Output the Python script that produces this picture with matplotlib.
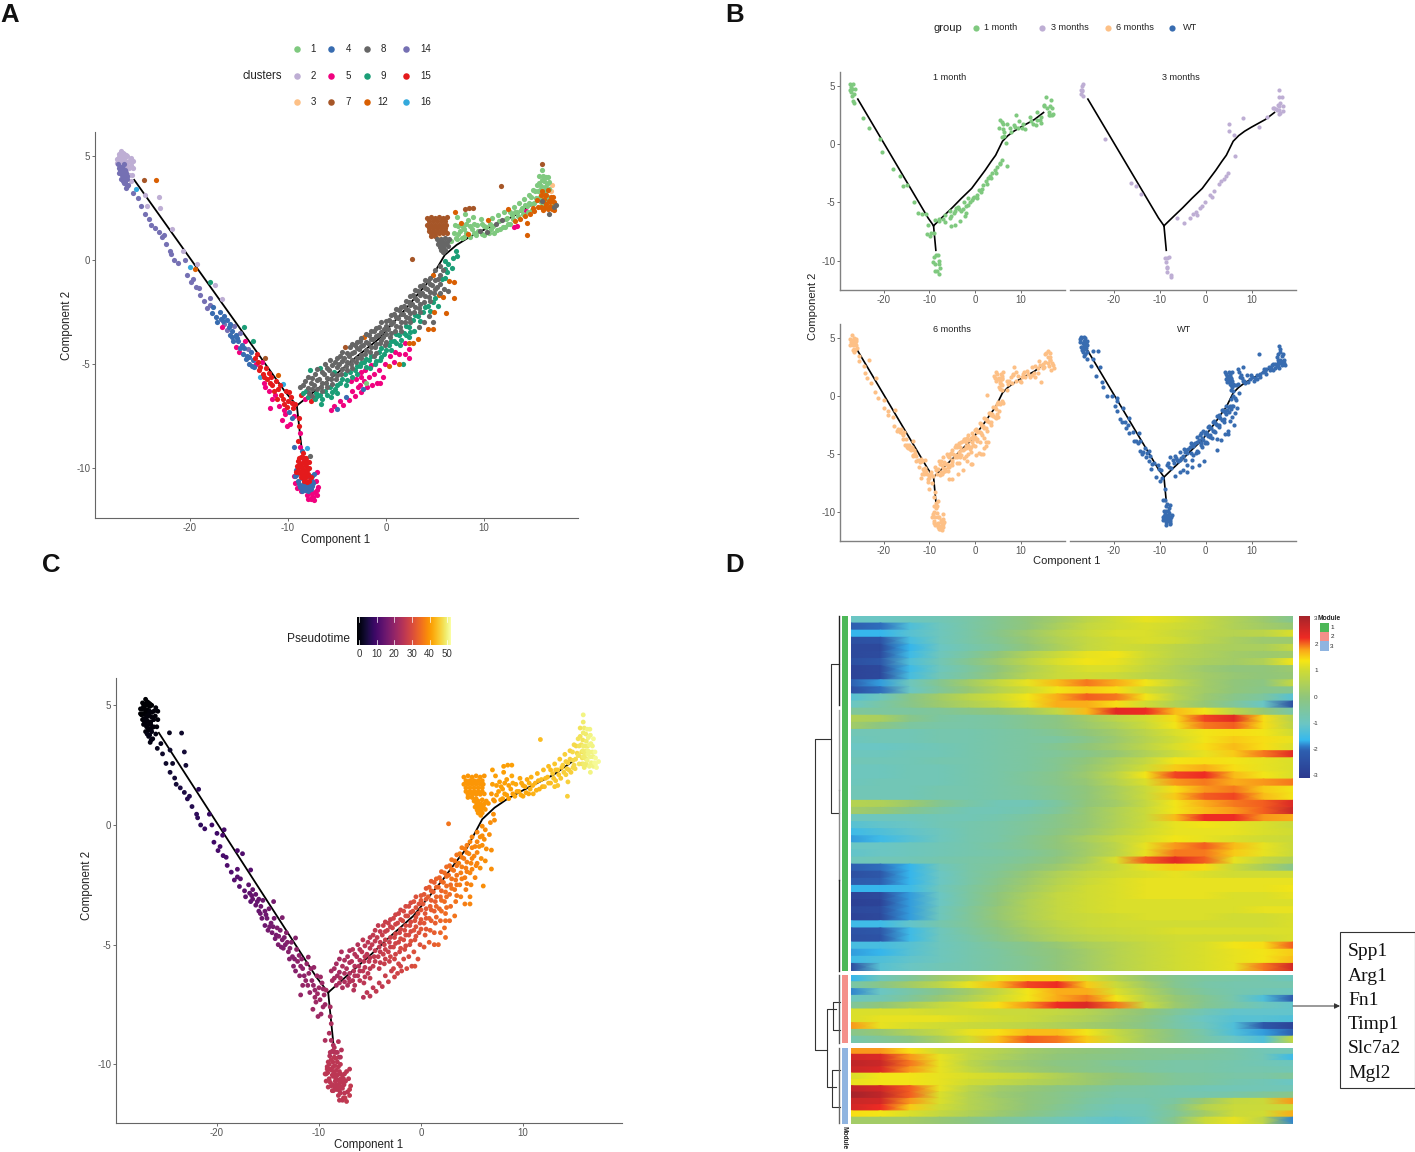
import matplotlib
matplotlib.use('Agg')
import matplotlib.pyplot as plt
import numpy as np
from matplotlib.colors import LinearSegmentedColormap

plt.rcParams['font.family'] = ['Liberation Sans', 'DejaVu Sans']
plt.rcParams['axes.unicode_minus'] = False

W, H = 1415, 1152

# cells: (component 1, component 2, cluster, group, pseudotime)
# group 0 is WT, the others are months
top_blob = [
    (-27.3,5.1,2,1,0),(-27.0,5.25,2,6,0),(-26.7,5.1,2,3,0),(-26.4,5.0,2,0,0),(-27.5,4.85,2,0,0),
    (-27.1,4.85,2,1,0),(-26.8,4.8,2,6,0),(-26.4,4.7,2,1,1),(-26.0,4.9,2,6,1),(-25.8,4.75,2,0,1),
    (-27.3,4.65,2,3,0),(-26.9,4.55,2,3,1),(-26.2,4.4,2,6,1),(-25.8,4.4,2,0,1),(-26.5,4.3,2,1,1),
    (-25.9,4.1,2,6,1),(-26.0,3.8,2,0,2),(-26.6,4.95,2,6,0),(-27.2,4.95,2,0,0),(-26.9,5.0,2,3,0),
    (-27.15,5.05,2,0,0),(-26.85,5.15,2,1,0),(-26.55,5.05,2,0,0),(-27.35,4.85,2,6,0),(-26.95,4.75,2,1,0),
    (-26.6,4.75,2,0,1),(-26.2,4.75,2,6,1),(-27.15,4.65,2,6,0),(-26.75,4.55,2,0,1),(-26.4,4.5,2,6,1),
    (-26.05,4.55,2,0,1),(-26.2,4.1,2,0,1),(-27.5,4.65,2,1,0),(-27.0,4.65,2,3,0),
    (-27.4,4.6,14,0,0),(-27.15,4.45,14,1,1),(-26.85,4.35,14,6,1),(-27.2,4.2,14,0,1),(-26.9,4.1,14,1,1),
    (-26.6,4.0,14,6,1),(-27.0,3.9,14,0,1),(-26.7,3.7,14,1,2),(-26.4,3.9,14,6,2),(-26.55,3.45,14,0,2),
    (-26.3,3.6,14,0,2),(-26.7,4.6,14,6,1),(-27.1,4.3,14,3,1),(-26.5,4.2,14,0,1),(-26.8,4.15,14,3,1),
    (-27.3,4.4,14,6,0),(-27.0,4.2,14,0,1),(-26.75,3.95,14,6,1),(-26.85,3.8,14,0,2),(-26.6,3.75,14,6,2),
    (-26.45,3.55,14,1,2),(-26.65,4.3,14,0,1),(-26.95,4.45,14,6,1),(-26.4,4.05,14,0,1),
]
left_arm = [
    (-25.85,3.2,14,0,3),(-25.5,3.4,16,6,3),(-25.34,2.97,14,6,4),(-25.0,2.57,14,0,4),(-24.6,2.2,14,1,5),
    (-24.15,1.96,14,6,5),(-24.6,3.13,2,0,4),(-23.2,3.05,2,6,5),(-24.35,2.57,2,6,4),(-23.05,2.49,2,0,5),
    (-24.66,3.85,7,0,3),(-23.47,3.84,12,0,4),(-23.2,1.36,14,1,6),(-22.9,1.09,14,6,7),(-22.45,0.77,14,0,7),
    (-22.0,0.45,14,3,8),(-21.6,0.0,14,0,8),(-21.2,-0.16,14,6,9),(-21.8,1.49,2,6,8),(-20.75,0.45,2,1,9),
    (-20.5,0.0,14,0,10),(-20.3,-0.72,14,1,10),(-19.9,-1.07,14,6,11),(-19.4,-1.28,14,0,11),(-19.0,-1.69,14,6,12),
    (-18.6,-1.97,14,0,12),(-18.0,-2.17,14,1,13),(-17.8,-2.57,4,6,13),(-19.3,-0.2,2,0,11),(-17.5,-1.2,2,6,12),
    (-16.7,-1.88,2,0,13),(-20.0,-0.35,16,6,10),(-19.45,-0.43,12,0,11),(-18.0,-1.07,9,0,12),(-14.45,-3.2,9,0,17),
    (-13.6,-3.87,9,6,18),(-12.3,-4.72,7,0,19),(-11.05,-5.52,12,6,21),
    (-24.0,1.7,14,0,5),(-23.6,1.55,14,6,6),(-22.7,1.2,14,0,7),(-21.9,0.3,14,6,8),(-19.7,-0.9,14,0,11),
    (-19.1,-1.35,14,6,11),(-18.3,-2.3,14,0,13),(-18.0,-1.85,14,6,13),(-17.7,-2.25,4,0,13),
    (-17.3,-2.75,4,0,14),(-17.2,-3.0,4,6,14),(-16.9,-2.5,4,0,14),(-16.8,-2.85,4,6,14),(-16.7,-3.2,5,0,14),
    (-16.5,-2.7,4,1,15),(-16.5,-3.1,14,6,15),(-16.2,-3.35,14,3,15),(-16.2,-2.9,4,6,15),(-15.9,-3.1,4,0,15),
    (-15.9,-3.6,4,1,15),(-15.7,-3.4,4,6,16),(-15.6,-3.9,4,0,16),(-15.5,-3.15,14,6,16),(-15.3,-3.6,4,3,16),
    (-15.3,-4.2,5,6,16),(-15.1,-3.9,4,0,16),(-15.0,-4.4,5,6,17),(-14.9,-3.5,14,1,17),(-14.7,-4.1,4,0,17),
    (-14.6,-4.5,4,6,17),(-14.4,-3.9,5,0,17),(-14.2,-4.6,4,6,17),(-14.1,-4.3,14,3,18),(-14.0,-5.0,4,0,18),
    (-13.8,-4.4,4,6,18),(-13.6,-4.8,4,0,18),(-13.5,-5.15,4,6,18),(-13.3,-5.0,5,1,18),(-13.2,-4.5,15,0,19),
    (-13.1,-4.9,15,6,19),(-13.0,-5.3,15,0,19),(-12.9,-5.6,16,6,19),(-12.7,-4.9,5,0,19),(-12.6,-5.5,15,6,19),
    (-12.5,-5.9,5,1,19),(-12.2,-5.2,15,0,20),(-12.1,-5.7,15,6,20),(-11.9,-6.3,5,0,20),(-11.7,-5.6,15,6,20),
    (-11.6,-6.0,15,1,20),(-11.3,-6.5,5,6,21),(-11.2,-5.8,15,0,21),(-11.0,-6.2,15,6,21),(-10.9,-7.0,5,0,21),
    (-10.7,-6.5,15,6,21),(-10.5,-5.95,16,0,21),(-10.4,-6.9,15,1,21),(-10.3,-7.4,5,6,22),(-10.2,-6.3,15,0,22),
    (-10.0,-6.8,15,6,22),(-9.9,-7.3,4,0,22),(-9.8,-7.9,5,1,22),(-9.7,-6.6,15,6,22),(-9.5,-7.1,15,0,22),
    (-9.4,-7.5,5,6,22),(-9.3,-6.9,15,6,23),(-10.1,-8.0,5,6,22),(-10.6,-7.7,5,1,22),(-11.8,-7.1,5,6,21),
    (-16.6,-2.95,4,6,15),(-16.05,-3.2,4,6,15),(-15.75,-3.7,4,6,16),(-15.2,-3.75,4,6,16),(-14.85,-4.25,4,6,17),
    (-14.5,-4.25,4,6,17),(-14.3,-4.75,4,0,17),(-13.95,-4.65,4,6,18),(-13.7,-5.1,4,6,18),(-13.4,-4.7,15,6,18),
    (-12.85,-5.15,15,6,19),(-12.4,-5.6,15,0,19),(-12.3,-6.1,5,6,19),(-11.95,-5.45,15,6,20),(-11.8,-5.9,15,0,20),
    (-11.45,-6.3,15,6,20),(-11.1,-6.7,15,6,21),(-10.8,-6.0,15,1,21),(-10.55,-6.7,15,6,21),(-10.15,-7.05,15,6,22),
    (-9.85,-6.35,15,0,22),(-9.6,-6.85,15,6,22),(-10.4,-7.2,5,6,22),(-9.6,-7.6,4,1,22),(-11.6,-6.7,5,6,21),
]
bottom_blob = [
    (-9.4,-9.0,4,0,24),(-9.0,-8.7,15,6,24),(-8.8,-9.0,5,0,24),(-8.6,-9.2,4,6,24),(-8.9,-8.0,15,0,23),
    (-8.9,-7.6,15,1,23),(-8.8,-8.3,5,6,24),(-8.5,-9.5,5,1,25),
    (-8.4,-11.0,5,6,26),(-8.1,-11.3,5,6,26),(-7.7,-11.5,5,6,26),(-7.3,-11.55,5,6,27),(-7.0,-11.3,5,6,27),
    (-7.5,-11.2,5,3,26),(-6.9,-10.9,5,6,27),(-7.1,-10.6,5,6,26),(-7.6,-11.4,5,3,26),(-8.0,-11.5,5,6,26),
    (-9.4,-10.4,5,6,26),(-9.3,-10.7,5,0,26),(-9.1,-10.95,5,6,26),(-7.0,-10.2,5,6,26),
    (-7.9,-11.2,5,6,26),(-7.45,-11.4,5,6,27),(-7.2,-11.15,5,6,26),(-7.0,-11.05,5,6,27),(-8.7,-11.1,5,6,26),
    (-9.3,-10.4,4,0,26),(-9.2,-10.1,4,1,26),(-9.0,-10.6,4,0,26),(-8.8,-10.9,4,1,26),(-8.6,-11.1,4,0,26),
    (-8.3,-11.05,4,6,26),(-8.0,-11.1,4,1,26),(-7.7,-11.0,4,0,26),(-7.4,-10.7,4,6,26),(-7.3,-10.3,4,0,26),
    (-7.6,-10.6,4,1,26),(-8.0,-10.8,4,0,26),(-8.4,-10.7,4,0,26),(-7.9,-10.4,4,6,26),(-8.6,-10.5,4,0,26),
    (-9.15,-10.35,4,0,26),(-8.9,-10.75,4,6,26),(-8.65,-10.85,4,0,26),(-8.3,-10.85,4,1,26),(-7.85,-10.95,4,0,26),
    (-7.55,-10.85,4,6,26),(-7.5,-10.4,4,0,26),(-7.75,-10.75,4,0,26),(-8.15,-10.95,4,6,26),(-8.45,-10.95,4,3,26),
    (-8.9,-9.5,15,6,25),(-8.5,-9.3,15,0,25),(-8.2,-9.5,15,1,25),(-7.9,-9.7,15,3,25),(-9.1,-9.9,15,0,26),
    (-8.8,-9.8,15,3,26),(-8.5,-9.7,15,6,26),(-8.2,-9.9,15,0,26),(-7.9,-10.0,15,1,26),(-9.2,-10.2,15,6,26),
    (-8.9,-10.2,15,0,26),(-8.6,-10.1,15,3,26),(-8.3,-10.25,15,0,26),(-8.0,-10.3,15,1,26),(-8.7,-10.45,15,6,26),
    (-8.4,-10.5,15,3,26),(-7.7,-10.45,15,0,26),(-8.1,-10.65,15,0,26),(-7.8,-9.4,8,0,25),(-8.1,-9.05,16,6,25),
    (-8.7,-9.45,15,0,25),(-8.35,-9.5,15,6,25),(-8.95,-9.65,15,1,25),(-8.65,-9.9,15,0,26),(-8.35,-9.75,15,3,26),
    (-8.05,-9.7,15,0,25),(-9.0,-10.0,15,6,26),(-8.45,-10.05,15,6,26),(-8.1,-10.1,15,0,26),(-8.75,-10.25,15,1,26),
    (-8.5,-10.35,15,0,26),(-8.2,-10.45,15,6,26),(-7.85,-10.6,15,0,26),(-8.35,-10.6,15,3,26),
]
right_arm = [
    (-8.8,-6.1,8,6,23),(-8.7,-6.5,15,1,23),(-8.3,-5.8,8,0,23),(-8.2,-6.3,9,6,23),(-8.3,-6.7,5,6,23),
    (-7.8,-5.3,9,0,24),(-7.7,-5.9,8,6,24),(-7.9,-6.4,8,1,24),(-7.7,-6.8,15,6,24),(-7.2,-5.5,8,0,24),
    (-7.3,-6.0,8,6,24),(-7.1,-6.4,9,1,24),(-7.2,-6.7,9,6,24),(-6.7,-5.2,9,0,25),(-6.8,-5.7,8,6,25),
    (-6.6,-6.1,8,1,25),(-6.7,-6.5,9,6,25),(-6.6,-6.9,9,0,25),(-6.2,-5.0,8,6,25),(-6.3,-5.5,8,0,25),
    (-6.1,-5.9,8,6,25),(-6.2,-6.3,9,3,25),(-5.7,-4.8,8,0,26),(-5.8,-5.3,8,6,26),(-5.6,-5.7,8,1,26),
    (-5.7,-6.1,9,6,26),(-5.6,-6.6,9,0,26),(-5.2,-4.9,8,6,26),(-5.3,-5.4,9,0,26),(-5.1,-5.7,8,6,26),
    (-5.2,-6.2,9,1,26),(-4.7,-4.6,8,0,27),(-4.8,-5.0,8,6,27),(-4.6,-5.5,8,0,27),(-4.7,-5.9,9,1,27),
    (-4.2,-4.2,7,6,27),(-4.3,-4.7,8,0,27),(-4.1,-5.1,8,6,27),(-4.2,-5.5,9,1,27),(-4.1,-6.0,9,0,27),
    (-3.7,-4.2,8,6,28),(-3.8,-4.6,8,0,28),(-3.6,-5.0,8,6,28),(-3.7,-5.4,9,1,28),(-3.6,-5.8,5,6,28),
    (-3.2,-4.1,8,0,28),(-3.3,-4.4,8,6,28),(-3.1,-4.9,8,0,28),(-3.2,-5.3,9,6,28),(-3.1,-5.7,5,1,28),
    (-2.7,-3.9,8,6,29),(-2.8,-4.3,8,0,29),(-2.6,-4.7,8,6,29),(-2.7,-5.1,9,0,29),(-2.6,-5.6,5,1,29),
    (-2.7,-6.0,5,3,29),(-2.2,-3.7,12,6,29),(-2.3,-4.1,8,0,29),(-2.1,-4.5,8,6,29),(-2.2,-4.9,9,0,29),
    (-2.1,-5.3,5,1,29),(-2.2,-5.8,5,3,29),(-1.7,-3.6,8,6,30),(-1.8,-4.0,8,0,30),(-1.6,-4.4,8,6,30),
    (-1.7,-4.8,9,0,30),(-1.6,-5.2,9,1,30),(-1.7,-5.6,5,6,30),(-1.2,-3.4,8,0,30),(-1.3,-3.8,8,6,30),
    (-1.1,-4.2,8,0,30),(-1.2,-4.6,8,6,30),(-1.1,-5.0,9,1,30),(-1.2,-5.5,5,3,30),(-0.7,-3.2,8,6,31),
    (-0.8,-3.6,8,0,31),(-0.6,-4.0,8,6,31),(-0.7,-4.4,9,0,31),(-0.6,-4.8,9,1,31),(-0.7,-5.3,5,3,31),
    (-0.6,-5.9,5,6,31),(-0.2,-3.3,8,0,31),(-0.3,-3.7,8,6,31),(-0.1,-4.1,8,0,31),(-0.2,-4.5,9,1,31),
    (-0.1,-5.0,5,3,31),(0.3,-2.9,8,6,32),(0.2,-3.3,8,0,32),(0.4,-3.7,8,6,32),(0.3,-4.1,9,0,32),
    (0.4,-4.6,5,1,32),(0.3,-5.1,12,6,32),(0.8,-2.6,8,0,33),(0.7,-3.0,8,6,33),(0.9,-3.4,8,0,33),
    (0.8,-3.9,9,1,33),(0.9,-4.4,5,3,33),(0.8,-4.9,5,6,33),(1.3,-2.4,8,6,33),(1.2,-2.8,8,0,33),
    (1.4,-3.2,8,6,33),(1.3,-3.6,9,0,33),(1.4,-4.1,9,1,33),(1.3,-4.5,5,3,33),(1.3,-5.0,12,6,33),
    (1.8,-2.2,8,0,34),(1.7,-2.6,8,6,34),(1.9,-3.0,8,0,34),(1.8,-3.5,9,1,34),(1.9,-4.0,5,3,34),
    (2.3,-2.0,8,6,35),(2.2,-2.4,8,0,35),(2.4,-2.8,8,6,35),(2.3,-3.2,9,1,35),(2.4,-3.7,9,0,35),
    (2.3,-4.3,5,6,35),(2.8,-1.7,8,0,35),(2.7,-2.1,8,6,35),(2.9,-2.5,8,0,35),(2.8,-2.9,9,1,35),
    (2.9,-3.4,9,3,35),(2.8,-4.0,12,6,35),(3.3,-1.5,8,6,36),(3.2,-1.9,8,0,36),(3.4,-2.3,8,6,36),
    (3.3,-2.7,9,1,36),(3.4,-3.2,8,3,36),(3.3,-3.8,12,0,36),(3.8,-1.2,8,0,37),(3.7,-1.6,8,6,37),
    (3.9,-2.0,8,0,37),(3.8,-2.5,9,1,37),(3.9,-3.0,8,3,37),(4.3,-1.0,8,6,37),(4.2,-1.4,8,0,37),
    (4.4,-1.8,8,6,37),(4.3,-2.2,9,1,37),(4.4,-2.7,8,3,37),(4.3,-3.3,12,0,37),(4.8,-0.7,12,6,38),
    (4.7,-1.2,8,0,38),(4.9,-1.6,8,6,38),(4.8,-2.0,9,1,38),(4.9,-2.5,12,3,38),(4.8,-3.0,8,0,38),
    (5.3,-0.9,8,0,38),(5.2,-1.3,8,6,38),(5.4,-1.7,12,1,38),(5.3,-2.2,9,0,38),(5.8,-0.5,8,6,39),
    (5.7,-0.9,9,0,39),(5.9,-1.4,8,1,39),(5.8,-1.8,12,0,39),(6.1,-2.55,12,0,39),(6.3,-0.2,9,0,39),
    (6.2,-0.6,9,6,39),(6.4,-1.0,12,3,39),(6.3,-1.5,8,0,39),(6.8,0.1,9,1,39),(6.7,-0.4,9,0,39),
    (6.9,-1.05,12,0,39),(7.1,0.45,9,6,39),(7.2,0.2,9,0,39),(6.9,-1.84,12,1,39),(2.4,-4.0,12,6,35),
    (4.8,-3.3,12,0,38),(2.7,0.05,7,6,36),
    # lower band
    (-5.65,-7.2,5,6,25),(-5.3,-7.0,5,1,26),(-5.0,-7.15,4,6,26),(-4.7,-6.8,5,3,26),(-4.4,-6.95,5,1,27),
    (-4.1,-6.6,4,0,27),(-3.8,-6.75,5,6,27),(-3.5,-6.3,5,3,28),(-3.2,-6.55,5,1,28),(-2.9,-6.1,5,0,28),
    (-2.6,-6.35,5,6,29),(-2.3,-6.2,4,1,29),(-1.9,-6.1,5,3,29),(-1.4,-6.0,5,0,30),(-0.9,-5.9,5,6,30),
    (-0.3,-5.6,5,0,31),(1.9,-4.5,5,6,34),(2.4,-4.7,5,0,35),(1.7,-5.0,9,6,34),(-2.0,-5.9,1,1,29),
]
# cells filling the middle of the right arm
arm_fill = [
    (-8.5,-6.0,8,0,23),(-8.5,-6.4,9,6,23),(-8.0,-5.6,8,6,23),(-8.0,-6.15,8,0,23),(-8.0,-6.6,9,1,24),
    (-7.5,-5.65,8,6,24),(-7.5,-6.2,8,0,24),(-7.5,-6.55,8,6,24),(-7.0,-5.25,8,6,24),(-7.0,-5.75,8,0,24),
    (-7.0,-6.2,8,6,24),(-7.0,-6.55,9,6,25),(-6.5,-5.4,8,0,25),(-6.5,-5.9,8,6,25),(-6.5,-6.3,8,6,25),
    (-6.5,-6.7,9,1,25),(-6.0,-5.2,8,6,25),(-6.0,-5.65,8,0,25),(-6.0,-6.1,8,6,25),(-6.0,-6.5,9,6,26),
    (-5.5,-5.05,8,6,26),(-5.5,-5.5,8,0,26),(-5.5,-5.95,8,6,26),(-5.5,-6.35,9,1,26),(-5.0,-4.7,8,6,26),
    (-5.0,-5.15,8,0,26),(-5.0,-5.55,8,6,26),(-5.0,-6.0,9,6,26),(-5.0,-6.4,9,0,27),(-4.5,-4.4,8,6,27),
    (-4.5,-4.85,8,0,27),(-4.5,-5.25,8,6,27),(-4.5,-5.7,9,1,27),(-4.0,-4.45,8,6,27),(-4.0,-4.9,8,0,27),
    (-4.0,-5.3,8,6,27),(-4.0,-5.75,9,6,27),(-3.5,-4.05,8,6,28),(-3.5,-4.45,8,0,28),(-3.5,-4.8,8,6,28),
    (-3.5,-5.2,8,6,28),(-3.5,-5.6,9,1,28),(-3.0,-3.95,8,6,28),(-3.0,-4.25,8,0,28),(-3.0,-4.7,8,6,28),
    (-3.0,-5.1,9,6,28),(-3.0,-5.5,9,0,29),(-2.5,-3.75,8,6,29),(-2.5,-4.15,8,0,29),(-2.5,-4.55,8,6,29),
    (-2.5,-4.95,9,1,29),(-2.5,-5.4,5,6,29),(-2.0,-3.55,8,0,29),(-2.0,-3.95,8,6,29),(-2.0,-4.35,8,6,29),
    (-2.0,-4.75,9,0,30),(-2.0,-5.15,9,6,30),(-1.5,-3.4,8,6,30),(-1.5,-3.8,8,0,30),(-1.5,-4.2,8,6,30),
    (-1.5,-4.6,9,1,30),(-1.5,-5.05,5,6,30),(-1.0,-3.25,8,0,30),(-1.0,-3.65,8,6,30),(-1.0,-4.05,8,0,30),
    (-1.0,-4.45,8,6,30),(-1.0,-4.85,9,6,31),(-0.5,-3.0,8,0,31),(-0.5,-3.45,8,6,31),(-0.5,-3.85,8,0,31),
    (-0.5,-4.25,9,6,31),(-0.5,-4.65,9,1,31),(0.0,-2.95,8,6,32),(0.0,-3.15,8,0,32),(0.0,-3.55,8,6,32),
    (0.0,-3.95,8,0,32),(0.0,-4.35,9,6,32),(0.5,-2.65,8,0,32),(0.5,-3.1,8,6,32),(0.5,-3.5,8,0,32),
    (0.5,-3.9,9,6,32),(0.5,-4.35,9,1,32),(1.0,-2.35,8,6,33),(1.0,-2.75,8,0,33),(1.0,-3.15,8,6,33),
    (1.0,-3.55,9,0,33),(1.0,-4.0,9,6,33),(1.5,-2.25,8,0,34),(1.5,-2.6,8,6,34),(1.5,-3.0,8,0,34),
    (1.5,-3.4,8,6,34),(1.5,-3.85,9,1,34),(2.0,-1.95,8,6,34),(2.0,-2.35,8,0,34),(2.0,-2.75,8,6,34),
    (2.0,-3.15,9,0,35),(2.0,-3.6,9,6,35),(2.5,-1.75,8,0,35),(2.5,-2.15,8,6,35),(2.5,-2.55,8,0,35),
    (2.5,-3.0,8,6,35),(2.5,-3.45,9,1,35),(3.0,-1.45,8,6,36),(3.0,-1.85,8,0,36),(3.0,-2.25,8,6,36),
    (3.0,-2.65,9,0,36),(3.5,-1.25,8,0,36),(3.5,-1.7,8,6,36),(3.5,-2.1,8,0,36),(3.5,-2.5,8,6,36),
    (3.5,-2.95,9,1,36),(4.0,-0.95,8,6,37),(4.0,-1.35,8,0,37),(4.0,-1.75,8,6,37),(4.0,-2.25,9,0,37),
    (4.5,-0.85,8,0,37),(4.5,-1.15,8,6,37),(4.5,-1.55,8,0,37),(4.5,-1.95,8,6,37),(4.5,-2.45,9,1,37),
    (5.0,-0.5,8,6,38),(5.0,-0.95,8,0,38),(5.0,-1.4,8,0,38),(5.0,-1.85,9,6,38),(5.5,-0.3,8,0,38),
    (5.5,-0.7,8,6,38),(5.5,-1.15,8,0,38),(5.5,-1.6,8,1,38),(6.0,-0.05,9,0,39),(6.0,-0.45,9,6,39),
    (6.0,-0.85,9,0,39),
]
elbow = [
    (4.2,2.0,7,0,40),(4.6,2.05,7,6,40),(5.0,2.0,7,0,40),(5.4,2.05,7,1,40),(5.8,2.0,7,0,40),(6.2,2.05,7,6,40),
    (4.2,1.7,7,6,40),(4.6,1.7,7,0,40),(5.0,1.7,7,3,40),(5.4,1.7,7,0,40),(5.8,1.7,7,6,40),(6.1,1.7,7,1,40),
    (4.4,1.4,7,0,40),(4.8,1.4,7,6,40),(5.2,1.4,7,1,40),(5.6,1.4,7,0,40),(6.0,1.4,7,6,40),(4.6,1.15,7,0,40),
    (5.0,1.15,7,3,40),(8.1,2.45,7,0,41),(8.5,2.5,7,6,41),(8.9,2.5,7,1,41),(5.4,1.1,3,6,40),(7.0,2.3,12,0,41),
    (4.4,1.85,7,0,40),(4.8,1.85,7,6,40),(5.2,1.85,7,0,40),(5.6,1.85,7,6,40),(6.0,1.85,7,1,40),(4.4,1.55,7,6,40),
    (4.8,1.55,7,0,40),(5.2,1.55,7,6,40),(5.6,1.55,7,0,40),(6.0,1.55,7,6,40),(4.6,1.28,7,6,40),(5.0,1.28,7,0,40),
    (5.4,1.28,7,6,40),(5.8,1.28,7,0,40),(6.2,1.3,7,1,40),
    (5.2,1.0,8,0,40),(5.6,1.0,8,6,40),(6.0,1.05,8,0,40),(6.4,1.0,8,1,40),(5.3,0.75,8,6,40),(5.7,0.75,8,0,40),
    (6.1,0.75,8,3,40),(5.6,0.5,8,0,40),(6.0,0.5,8,6,40),(6.3,0.65,8,1,40),(5.45,0.88,8,0,40),(5.85,0.88,8,6,40),
    (6.2,0.88,8,0,40),(5.5,0.62,8,6,40),(5.85,0.62,8,1,40),(5.85,0.4,8,0,40),
]
top_right = [
    (6.6,0.9,1,0,40),(6.9,1.3,1,6,40),(7.0,1.7,1,1,41),(7.3,2.05,1,0,41),(7.2,1.0,1,6,40),(7.6,1.4,1,1,41),
    (7.7,1.8,12,0,41),(8.0,1.1,1,6,41),(8.0,1.5,1,0,41),(8.1,2.2,1,3,41),(8.4,1.9,1,6,41),(8.4,1.25,12,0,41),
    (8.8,1.5,1,1,41),(8.9,2.05,1,6,42),(9.2,1.2,1,0,42),(9.3,1.7,1,6,42),(9.6,1.4,8,0,42),(9.7,1.95,1,1,42),
    (10.0,1.2,1,6,42),(10.0,1.65,1,0,42),(10.3,1.35,8,1,42),(10.4,1.9,12,6,42),(10.7,1.5,1,0,43),(10.8,2.0,1,6,43),
    (11.0,1.3,1,1,43),(11.2,1.75,8,0,43),(11.4,2.15,1,6,43),(11.6,1.5,1,3,43),(11.8,1.9,8,0,44),(12.0,2.3,1,1,44),
    (12.1,1.6,1,6,44),(12.4,2.0,1,0,44),(12.5,2.45,12,6,44),(12.7,1.75,1,1,44),(12.9,2.15,1,0,45),(13.1,2.55,1,6,45),
    (13.2,1.85,12,0,45),(13.4,2.3,1,3,45),(13.6,2.75,1,1,45),(13.7,1.95,12,6,45),(13.9,2.5,1,0,46),(14.1,2.95,1,6,46),
    (14.2,2.1,12,1,46),(14.4,2.6,1,0,46),(14.35,1.2,12,6,46),(14.6,3.1,1,3,46),(14.7,2.2,12,0,46),(14.9,2.7,1,6,47),
    (15.0,3.35,1,1,47),(15.1,2.35,12,0,47),(15.3,3.0,1,3,47),(15.4,3.6,1,6,48),(15.5,2.55,12,0,48),(15.6,4.05,1,1,48),
    (15.7,3.35,1,3,48),(15.8,2.8,1,0,48),(15.9,3.85,1,6,49),(15.9,4.3,1,0,49),(16.1,2.5,1,1,49),(16.2,3.5,1,3,49),
    (16.3,4.0,1,0,50),(16.5,3.05,1,6,50),(16.6,3.75,1,1,50),(16.8,3.3,3,3,50),(16.9,3.6,3,0,51),(17.0,2.6,1,6,51),
    (7.1,1.05,1,0,40),(7.4,1.25,1,6,41),(7.4,1.65,1,0,41),(7.8,1.05,1,1,41),(7.85,1.6,1,6,41),(8.2,1.3,1,0,41),
    (8.2,1.75,1,6,41),(8.6,1.1,1,0,41),(8.6,1.65,1,1,41),(9.0,1.3,1,6,41),(9.0,1.75,1,0,42),(9.4,1.4,1,1,42),
    (9.8,1.25,1,6,42),(9.85,1.75,1,0,42),(10.2,1.6,1,6,42),(10.55,1.3,1,0,42),(10.6,1.75,1,1,43),(10.95,1.65,1,6,43),
    (11.3,1.45,1,0,43),(11.5,1.85,1,6,43),(11.9,1.6,1,0,43),(12.2,1.95,1,1,44),(12.5,1.75,1,6,44),(12.7,2.3,1,0,44),
    (13.0,1.95,1,6,45),(13.2,2.3,1,0,45),(13.5,2.1,1,1,45),(13.8,2.4,1,6,45),(14.0,2.2,1,0,46),(14.2,2.65,1,6,46),
    (14.5,2.3,1,1,46),(14.6,2.75,1,0,46),(14.85,3.05,1,3,47),(14.9,2.4,1,6,47),(15.15,2.75,1,0,47),(15.2,3.3,1,1,47),
    (15.45,2.9,1,3,48),(15.5,3.3,1,0,48),(15.6,3.7,1,6,48),(15.75,3.05,1,1,48),(15.85,3.55,1,0,48),(16.0,4.05,1,3,49),
    (16.05,3.3,1,6,49),(16.15,3.8,1,0,49),(16.35,3.3,1,1,49),(16.4,3.65,1,6,50),(16.55,4.0,1,3,50),(16.65,3.4,1,0,50),
    (16.2,2.75,1,1,49),(15.95,2.55,1,3,49),(16.85,2.85,1,6,50),(16.35,2.95,1,0,50),
    (15.9,3.3,12,3,49),(16.2,3.1,12,0,49),(16.5,3.35,12,6,50),(16.8,3.05,12,1,50),(17.1,2.8,12,0,51),(16.0,2.85,12,6,49),
    (16.3,2.7,12,3,50),(16.7,2.6,12,0,50),(17.2,2.4,12,6,51),(16.5,2.45,12,1,50),(16.0,2.4,12,0,49),(15.4,2.9,12,6,48),
    (15.85,3.1,12,0,49),(16.1,2.95,12,3,49),(16.35,3.1,12,6,50),(16.6,2.85,12,0,50),(16.85,2.85,12,3,50),(17.05,3.05,12,0,51),
    (16.2,2.55,12,6,49),(16.9,2.45,12,1,50),(15.8,2.55,12,0,48),(15.0,2.5,12,6,47),(14.4,1.8,12,1,46),
    (15.9,2.85,8,0,49),(17.1,2.55,8,1,51),(16.6,2.2,8,6,50),(14.3,2.35,5,0,46),(13.4,1.65,5,1,45),(13.1,1.6,5,6,45),
    (11.7,3.57,7,0,44),(15.9,4.6,7,3,50),(17.4,2.65,8,0,51),
]

cluster_ids = [1, 2, 3, 4, 5, 7, 8, 9, 12, 14, 15, 16]
cluster_colors = ['#7fc97f', '#beaed4', '#fdc086', '#386cb0', '#f0027f', '#a65628',
                  '#666666', '#1b9e77', '#d95f02', '#7570b3', '#e41a1c', '#33a9dc']
# order of the clusters from back to front
cluster_order = [2, 14, 16, 5, 4, 15, 3, 1, 9, 12, 7, 8]

group_ids = [1, 3, 6, 0]
group_names = ['1 month', '3 months', '6 months', 'WT']
group_colors = ['#7fc97f', '#beaed4', '#fdc086', '#386cb0']

# trajectory tree
trunk_x = [-25.7, -10.3, -9.1]
trunk_y = [3.85, -6.33, -7.0]
stalk_x = [-9.1, -8.6]
stalk_y = [-7.0, -9.1]
branch_x = [-9.1, -7.0, -5.0, -3.0, -0.75, 2.2, 3.5, 4.5, 6.0, 7.2, 8.5, 10.0, 13.0, 15.0]
branch_y = [-7.0, -6.2, -5.45, -4.65, -3.8, -2.25, -1.5, -0.96, 0.24, 0.72, 1.1, 1.45, 2.1, 2.7]

# heatmap, one row per gene band, 16 steps along pseudotime
module1 = [
    [-1.0,-1.0,-.9,-.8,-.6,-.3,0,.3,.7,1.0,1.2,1.1,.8,.5,.2,-.3],
    [-2.0,-1.9,-1.3,-.9,-.6,-.3,0,.4,.8,1.0,1.1,1.0,.8,.5,.3,.1],
    [-1.6,-1.6,-1.2,-.9,-.6,-.2,.2,.6,.9,1.1,1.1,.9,.7,.6,.7,1.1],
    [-2.4,-2.3,-1.4,-.9,-.6,-.3,.1,.5,.8,1.0,1.1,1.0,.7,.4,.2,.2],
    [-2.6,-2.6,-1.6,-1.0,-.7,-.4,0,.4,.8,1.0,.9,.7,.5,.4,.4,.8],
    [-2.6,-2.5,-1.5,-.9,-.5,0,.5,.9,1.2,1.3,1.0,.7,.5,.3,.2,.3],
    [-2.4,-2.2,-1.3,-.8,-.3,.2,.7,1.1,1.3,1.2,.9,.6,.4,.3,.5,1.3],
    [-2.7,-2.6,-1.5,-.9,-.5,0,.5,.9,1.1,1.1,.8,.5,.2,0,0,.2],
    [-2.7,-2.6,-1.4,-.8,-.4,.1,.6,.9,1.0,.9,.7,.5,.3,.1,0,.1],
    [-2.0,-1.7,-.9,-.3,.3,.8,1.2,1.6,1.9,1.7,1.3,.8,.3,0,-.1,.8],
    [-2.4,-1.9,-1.0,-.4,.1,.6,1.0,1.3,1.5,1.4,1.0,.6,.3,0,-.2,-.3],
    [-1.2,-.9,-.2,.3,.7,1.0,1.3,1.7,2.0,1.9,1.3,.7,.2,-.2,-.5,-1.2],
    [-1.0,-.6,-.2,.2,.5,.8,1.2,1.7,1.7,1.4,1.0,.5,.1,-.4,-1.0,-2.4],
    [-.4,-.5,-.5,-.4,-.2,0,.3,.8,1.6,2.3,2.2,1.6,1.3,.7,.1,-.6],
    [.5,.4,-.2,-.5,-.6,-.5,-.3,-.1,.3,.7,1.0,1.4,2.1,2.3,1.4,.6],
    [.3,-.1,-.5,-.6,-.6,-.5,-.3,-.1,.2,.5,.9,1.3,1.9,2.0,1.4,.7],
    [-.8,-.8,-.8,-.7,-.7,-.6,-.5,-.3,0,.3,.7,1.1,1.3,1.4,1.3,1.0],
    [-.9,-.8,-.8,-.7,-.7,-.6,-.5,-.5,-.2,.2,.6,1.0,1.3,1.5,1.4,1.2],
    [-1.0,-1.0,-.9,-.8,-.7,-.6,-.5,-.3,0,.3,.7,1.1,1.4,1.6,1.4,1.1],
    [-.9,-.9,-.8,-.8,-.7,-.6,-.5,-.4,-.2,.1,.5,.9,1.2,1.5,1.9,2.3],
    [-.8,-.8,-.8,-.7,-.7,-.6,-.5,-.3,0,.4,.8,1.3,1.4,1.3,1.2,1.1],
    [-.9,-.9,-.8,-.8,-.7,-.6,-.5,-.3,.1,.5,1.0,1.5,1.7,1.4,1.2,1.1],
    [-.9,-.9,-.8,-.8,-.7,-.6,-.4,-.2,.2,.7,1.3,2.1,2.2,1.6,1.3,1.1],
    [-.9,-.8,-.8,-.8,-.7,-.6,-.4,-.2,.1,.6,1.1,1.8,1.9,1.7,1.8,1.9],
    [-.8,-.8,-.8,-.7,-.7,-.6,-.5,-.3,0,.4,.9,1.4,1.8,1.9,1.5,1.3],
    [-.8,-.8,-.8,-.7,-.7,-.6,-.5,-.3,0,.4,.9,1.5,2.0,2.1,1.6,1.3],
    [.6,.5,.2,-.3,-.6,-.8,-.8,-.5,0,.3,.8,1.3,1.7,1.9,2.0,2.4],
    [.3,.1,-.3,-.6,-.8,-.8,-.7,-.4,.1,.5,.9,1.3,1.6,1.8,2.0,2.6],
    [-.9,-.9,-.9,-.8,-.8,-.7,-.5,-.2,.1,.5,.9,1.6,2.2,2.2,1.8,1.7],
    [-1.2,-1.1,-1.0,-.8,-.7,-.6,-.4,-.2,.1,.5,.9,1.2,1.3,1.2,1.1,.9],
    [-1.5,-1.3,-1.1,-.9,-.7,-.6,-.4,-.1,.2,.6,1.0,1.2,1.2,1.2,1.1,1.0],
    [-1.7,-1.5,-1.2,-.9,-.7,-.6,-.3,0,.4,.8,1.1,1.3,1.2,1.1,1.0,.9],
    [-1.0,-1.0,-.9,-.8,-.7,-.5,-.3,0,.3,.7,1.2,1.8,2.0,1.6,1.2,.9],
    [-1.1,-1.0,-.9,-.8,-.7,-.6,-.4,-.1,.3,.7,1.2,1.9,1.9,1.5,1.2,.9],
    [-.9,-.8,-.8,-.7,-.6,-.5,-.3,0,.4,1.1,2.0,2.3,2.0,1.2,.8,.5],
    [-2.0,-1.9,-1.6,-.9,-.6,-.4,-.1,.2,.6,.9,1.2,1.5,1.4,.9,.4,-.2],
    [-2.4,-2.2,-1.6,-1.0,-.6,-.3,.1,.5,.8,1.0,1.1,1.2,1.1,1.0,1.0,1.0],
    [-2.1,-2.0,-1.6,-1.0,-.6,-.2,.2,.6,.9,1.1,1.2,1.2,1.2,1.2,1.2,1.2],
    [-1.6,-1.6,-1.5,-.9,-.5,-.1,.3,.7,1.0,1.1,1.2,1.2,1.2,1.2,1.2,1.3],
    [-2.7,-2.6,-1.7,-1.0,-.5,0,.4,.8,1.0,1.1,1.2,1.2,1.2,1.1,1.1,1.2],
    [-2.8,-2.7,-1.7,-1.0,-.5,0,.5,.8,1.0,1.1,1.1,1.1,1.1,1.1,1.1,1.1],
    [-2.6,-2.5,-1.7,-.9,-.4,.1,.5,.8,1.0,1.1,1.1,1.1,1.1,1.1,1.2,1.2],
    [-2.7,-2.6,-1.7,-.9,-.4,.1,.5,.8,.9,1.0,1.1,1.1,1.1,1.0,1.0,1.1],
    [-1.5,-1.5,-1.1,-.7,-.4,0,.4,.7,.9,1.0,1.0,1.0,1.0,1.0,1.0,1.1],
    [-2.3,-2.2,-1.5,-.9,-.5,-.1,.3,.6,.8,.9,1.0,1.1,1.1,1.1,1.1,1.1],
    [-2.4,-2.3,-1.5,-.9,-.6,-.2,.2,.5,.7,.8,.9,1.0,1.0,1.0,1.0,1.1],
    [-1.4,-1.4,-1.2,-.9,-.7,-.4,-.2,.1,.4,.6,.8,1.0,1.1,1.3,1.4,2.0],
    [-1.7,-1.6,-1.2,-.9,-.7,-.5,-.2,0,.3,.6,.8,1.0,1.1,1.2,1.3,1.5],
    [-1.5,-1.3,-1.1,-.9,-.7,-.5,-.3,0,.3,.6,.8,1.0,1.1,1.2,1.3,1.6],
    [-2.5,-1.2,-1.0,-.8,-.7,-.5,-.3,0,.3,.6,.8,1.0,1.1,1.2,1.9,2.5],
]
module2 = [
    [-1.6,-.9,-.4,.2,.6,1.2,1.5,1.5,1.1,.6,.1,-.3,-.5,-.6,-.7,-.9],
    [-.6,-.2,.3,.7,1.2,1.6,2.1,2.2,1.5,.9,.3,-.3,-.6,-.7,-.7,-.7],
    [-1.8,-1.0,-.6,-.2,.3,.8,1.3,1.7,1.7,1.1,.5,-.1,-.5,-.7,-.8,-.9],
    [-.9,-.8,-.4,.1,.5,1.0,1.3,1.7,1.9,1.3,.7,.1,-.3,-.7,-1.3,-2.1],
    [-.4,0,.4,.8,1.1,1.4,1.8,2.2,2.4,1.9,.9,.2,-.3,-.6,-.9,-1.1],
    [1.1,1.1,1.1,1.0,1.0,.9,.9,.8,.6,.3,0,-.4,-.8,-1.1,-1.1,-1.1],
    [1.1,1.2,1.2,1.2,1.1,1.0,.9,.7,.5,.2,-.1,-.6,-1.0,-1.2,-1.2,-1.3],
    [1.8,1.2,1.1,1.0,.9,.8,.7,.5,.3,.1,-.2,-.6,-.9,-1.3,-2.2,-2.7],
    [-.2,.1,.5,.8,1.2,1.4,1.6,1.6,1.3,.8,.3,-.2,-.7,-1.3,-1.7,-2.0],
    [-.7,-.4,-.1,.4,1.0,1.6,2.0,1.9,1.5,.9,.3,-.2,-.6,-1.0,-1.3,.8],
]
module3 = [
    [1.8,1.8,1.4,1.0,.8,.6,.3,.1,0,-.1,-.3,-.3,-.4,-.6,-.8,-.8],
    [2.5,2.4,1.8,1.2,.8,.5,.2,0,-.1,-.2,-.3,-.4,-.5,-.6,-.8,-1.5],
    [2.7,2.6,1.9,1.2,.7,.3,.1,-.1,-.2,-.4,-.5,-.6,-.6,-.7,-.8,-.9],
    [2.6,2.4,1.8,1.2,.8,.4,.2,0,-.2,-.3,-.5,-.6,-.6,-.7,-.7,-.8],
    [1.1,1.3,1.3,1.2,1.1,1.0,.8,.5,.2,0,-.2,-.4,-.5,-.6,-.6,-.4],
    [1.2,1.3,1.3,1.2,1.0,.8,.6,.4,.2,-.1,-.2,-.4,-.5,-.7,-.8,-1.0],
    [2.7,2.5,2.0,1.2,.7,.3,.1,-.1,-.3,-.5,-.6,-.7,-.8,-.8,-.8,-.8],
    [3.0,2.7,2.0,1.1,.6,.2,0,-.2,-.4,-.6,-.6,-.7,-.7,-.6,-.4,-.2],
    [2.6,2.5,1.8,1.1,.6,.3,0,-.2,-.5,-.7,-.7,-.5,.2,.8,.9,1.8],
    [2.5,2.2,1.5,1.0,.6,.3,0,-.3,-.6,-.8,-.8,-.3,.6,.9,.9,.9],
    [1.4,1.3,1.1,.8,.5,.2,-.1,-.4,-.7,-.9,-.8,-.4,.3,.9,1.0,1.7],
    [.3,.3,.3,.1,-.1,-.4,-.6,-.8,-1.0,-1.1,-.9,-.2,.9,1.2,.7,-1.8],
]
module_colors = ['#4db858', '#f4908a', '#8fb4e0']
genes = ['Spp1', 'Arg1', 'Fn1', 'Timp1', 'Slc7a2', 'Mgl2']

cells = np.array(top_blob + left_arm + bottom_blob + right_arm + arm_fill + elbow + top_right)
cx, cy, ccl, cgr, ct = cells.T


def panel(left, top, right, bottom):
    return fig.add_axes([left / W, 1 - bottom / H, (right - left) / W, (bottom - top) / H])


def style(ax, xlim, ylim, show_y=True, lw=0.8, col='#666666', size=7):
    ax.set_xlim(xlim)
    ax.set_ylim(ylim)
    ax.set_xticks([-20, -10, 0, 10])
    ax.set_yticks([-10, -5, 0, 5])
    ax.spines['top'].set_visible(False)
    ax.spines['right'].set_visible(False)
    for s in ['left', 'bottom']:
        ax.spines[s].set_color(col)
        ax.spines[s].set_linewidth(lw)
    ax.tick_params(length=2, width=0.6, color='#555555', labelsize=size, labelcolor='#555555', pad=1.5)
    if not show_y:
        ax.spines['left'].set_visible(False)
        ax.set_yticks([])
    ax.patch.set_alpha(0)


def tree(ax, lw=1.3):
    ax.plot(trunk_x, trunk_y, color='black', lw=lw, zorder=1)
    ax.plot(stalk_x, stalk_y, color='black', lw=lw, zorder=1)
    ax.plot(branch_x, branch_y, color='black', lw=lw, zorder=1)


fig = plt.figure(figsize=(W / 100, H / 100), dpi=100)

# overlay in pixel units for legends and labels
ov = fig.add_axes([0, 0, 1, 1], zorder=10)
ov.set_xlim(0, W)
ov.set_ylim(H, 0)
ov.axis('off')
ov.patch.set_alpha(0)

for label, px, py in [('A', 10, 15), ('B', 735, 15), ('C', 51, 565), ('D', 735, 565)]:
    ov.text(px, py, label, fontsize=18.5, fontweight='bold', ha='center', va='center', color='#111111')

# panel A
axA = panel(95, 132, 578, 518)
style(axA, (-29.7, 19.6), (-12.4, 6.15))
tree(axA)
for c in cluster_order:
    m = ccl == c
    axA.scatter(cx[m], cy[m], s=14, color=cluster_colors[cluster_ids.index(c)], linewidths=0, zorder=2)
ov.text(336, 540, 'Component 1', fontsize=8.3, ha='center', va='center', color='#222222')
ov.text(67, 325, 'Component 2', fontsize=8.3, rotation=90, ha='center', va='center', color='#222222')
ov.text(262, 76, 'clusters', fontsize=8.3, ha='center', va='center', color='#222222')
leg_x = [297, 331, 367, 406]
leg_lab_x = [313, 348, 383, 426]
leg_y = [49, 76, 102]
leg_rows = [[1, 4, 8, 14], [2, 5, 9, 15], [3, 7, 12, 16]]
for j, row in enumerate(leg_rows):
    for i, c in enumerate(row):
        ov.scatter(leg_x[i], leg_y[j], s=22, color=cluster_colors[cluster_ids.index(c)], linewidths=0)
        ov.text(leg_lab_x[i], leg_y[j], str(c), fontsize=7, ha='center', va='center', color='#222222')

# panel B
boxes = [(840, 72, 1065, 290), (1070, 72, 1296, 290), (840, 324, 1065, 541), (1070, 324, 1296, 541)]
title_x = [950, 1181, 952, 1184]
for k, g in enumerate(group_ids):
    axB = panel(*boxes[k])
    style(axB, (-29.6, 19.7), (-12.5, 6.17), show_y=k % 2 == 0, lw=1.0, col='#808080')
    tree(axB, lw=1.2)
    m = cgr == g
    axB.scatter(cx[m], cy[m], s=9, color=group_colors[k], linewidths=0, zorder=2)
    ov.text(title_x[k], boxes[k][1] + 5, group_names[k], fontsize=6.6, ha='center', va='center', color='#222222')
ov.text(1067, 561, 'Component 1', fontsize=8, ha='center', va='center', color='#222222')
ov.text(813, 306, 'Component 2', fontsize=8, rotation=90, ha='center', va='center', color='#222222')
ov.text(948, 28, 'group', fontsize=8, ha='center', va='center', color='#222222')
for px, lx, name, col in zip([976, 1042, 1108, 1172], [1001, 1070, 1135, 1190], group_names, group_colors):
    ov.scatter(px, 28, s=20, color=col, linewidths=0)
    ov.text(lx, 28, name, fontsize=6.6, ha='center', va='center', color='#222222')

# panel C
axC = panel(116, 678, 622, 1123)
style(axC, (-29.9, 19.7), (-12.45, 6.14))
tree(axC)
order = np.argsort(ct)
axC.scatter(cx[order], cy[order], s=12, c=ct[order], cmap='inferno', vmin=0, vmax=52, linewidths=0, zorder=2)
ov.text(369, 1145, 'Component 1', fontsize=8.3, ha='center', va='center', color='#222222')
ov.text(87, 885, 'Component 2', fontsize=8.3, rotation=90, ha='center', va='center', color='#222222')
ov.text(319, 639, 'Pseudotime', fontsize=8.6, ha='center', va='center', color='#222222')
axBar = panel(357, 617, 451, 645)
axBar.imshow(np.linspace(0, 1, 256)[None, :], aspect='auto', cmap='inferno', extent=[-1.1, 52.1, 0, 1])
axBar.set_xlim(-1.1, 52.1)
axBar.set_ylim(0, 1)
axBar.set_xticks([0, 10, 20, 30, 40, 50])
axBar.set_yticks([])
for s in axBar.spines.values():
    s.set_visible(False)
axBar.tick_params(length=0, labelsize=7, labelcolor='#333333', pad=3)
for v in [0, 10, 20, 30, 40, 50]:
    axBar.plot([v, v], [0, 0.18], color='white', lw=0.5)
    axBar.plot([v, v], [0.82, 1], color='white', lw=0.5)

# panel D
heat_cmap = LinearSegmentedColormap.from_list('heat', [
    (0.0, '#2c3a8f'), (1.0 / 6, '#2e5fb0'), (1.15 / 6, '#2f78c6'), (1.4 / 6, '#36b9ee'), (2.0 / 6, '#6bc6c4'),
    (3.0 / 6, '#90c67c'), (4.0 / 6, '#d0dc34'), (4.35 / 6, '#f7e614'), (4.75 / 6, '#faa61a'),
    (5.2 / 6, '#ee2b24'), (1.0, '#a6242b')])
heat_boxes = [(851, 616, 1293, 970.5), (851, 975, 1293, 1043), (851, 1048, 1293, 1123.5)]
for data, box, col in zip([module1, module2, module3], heat_boxes, module_colors):
    ax = panel(*box)
    vals = np.array(data)
    nrow, ncol = vals.shape
    # each row gets its own top and bottom edge so the bands stay crisp
    row_edges = np.repeat(np.arange(nrow + 1), 2)[1:-1]
    ax.pcolormesh(np.arange(ncol), row_edges, np.repeat(vals, 2, axis=0), shading='gouraud',
                  cmap=heat_cmap, vmin=-3, vmax=3)
    ax.set_ylim(nrow, 0)
    ax.axis('off')
    ov.fill_between([841.5, 848], box[1], box[3], color=col, linewidth=0)

axH = panel(1299, 616, 1310, 778)
axH.imshow(np.linspace(3, -3, 256)[:, None], aspect='auto', cmap=heat_cmap, vmin=-3, vmax=3)
axH.axis('off')
for v, py in zip([3, 2, 1, 0, -1, -2, -3], [618.7, 644.7, 670.8, 697.5, 723.6, 749.6, 775.7]):
    ov.text(1316, py, str(v), fontsize=4.6, ha='center', va='center', color='#333333')
ov.text(1329, 619, 'Module', fontsize=4.8, fontweight='bold', ha='center', va='center', color='#222222')
for (t, b), col, name in zip([(623, 632), (632, 641), (641, 651)], module_colors, ['1', '2', '3']):
    ov.fill_between([1319.5, 1328.5], t, b, color=col, linewidth=0)
    ov.text(1332, (t + b) / 2, name, fontsize=4.6, ha='center', va='center', color='#222222')
ov.text(844, 1138, 'Module', fontsize=4.8, fontweight='bold', rotation=270, ha='center', va='center', color='#222222')

# dendrogram, merge positions in picture pixels
dend_lines = [
    ([831, 814.5, 814.5, 827], [739.4, 739.4, 1050, 1050]),
    ([839, 831, 831, 839], [664, 664, 813, 813]),
    ([836, 827, 827, 836], [1009, 1009, 1087, 1087]),
    ([840, 833, 833, 840], [1002, 1002, 1030, 1030]),
    ([840, 832, 832, 840], [1070, 1070, 1107, 1107]),
]
for xs, ys in dend_lines:
    ov.plot(xs, ys, color='#333333', lw=0.8)
leaf_spans = [(616, 705, '#222222'), (710, 790, '#999999'), (790, 880, '#888888'), (880, 971, '#222222'),
              (975, 1043, '#555555'), (1048, 1123, '#666666')]
for t, b, col in leaf_spans:
    ov.plot([839, 839], [t, b], color=col, lw=1.0)

# gene box
ov.add_patch(plt.Rectangle((1340, 932), 74.5, 156, fc='white', ec='#333333', lw=0.8))
for i, g in enumerate(genes):
    ov.text(1348, 952 + i * 24.2, g, fontsize=14, family='Liberation Serif', ha='left', va='center', color='#111111')
ov.annotate('', xy=(1340, 1006), xytext=(1293, 1006),
            arrowprops=dict(arrowstyle='-|>', color='#333333', lw=0.7, mutation_scale=8, shrinkA=0, shrinkB=0))

fig.savefig('out.png', dpi=100)
